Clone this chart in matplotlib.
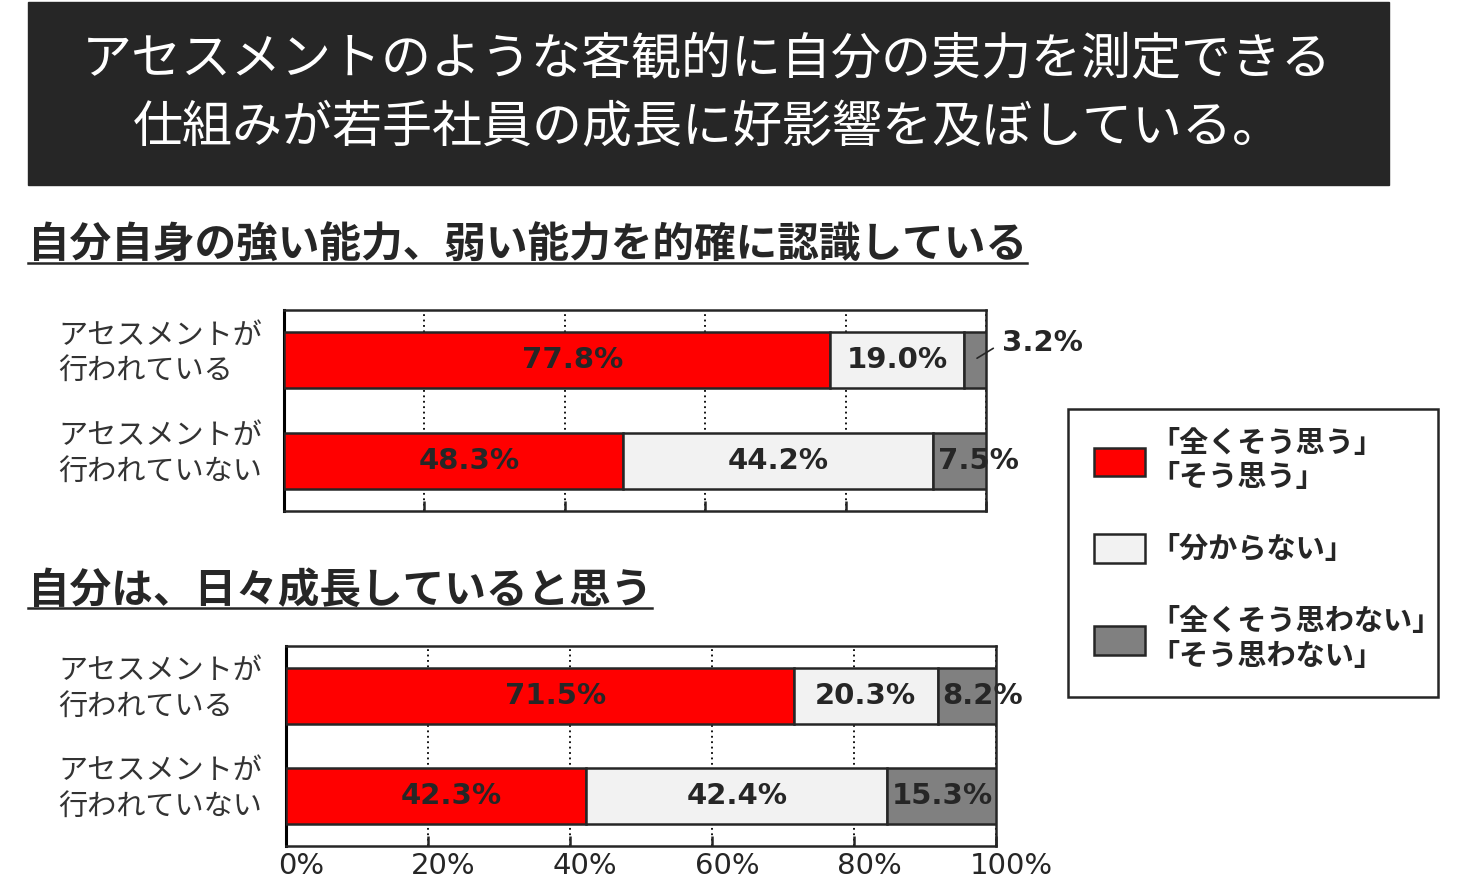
import matplotlib
matplotlib.use("Agg")
import matplotlib.pyplot as plt
import matplotlib.patches as mpatches
import matplotlib.transforms as mtransforms
from matplotlib.lines import Line2D
import numpy as np

plt.rcParams['font.family'] = ['Noto Sans CJK JP', 'DejaVu Sans']

# データ
groups = ["アセスメントが\n行われている", "アセスメントが\n行われていない"]
legend_labels = ["「全くそう思う」\n「そう思う」", "「分からない」", "「全くそう思わない」\n「そう思わない」"]
colors = ["#FF0000", "#F2F2F2", "#808080"]

q1_title = "自分自身の強い能力、弱い能力を的確に認識している"
q1_agree = [77.8, 48.3]
q1_unknown = [19.0, 44.2]
q1_disagree = [3.2, 7.5]

q2_title = "自分は、日々成長していると思う"
q2_agree = [71.5, 42.3]
q2_unknown = [20.3, 42.4]
q2_disagree = [8.2, 15.3]

xticks = [0, 20, 40, 60, 80, 100]
xtick_labels = ["0%", "20%", "40%", "60%", "80%", "100%"]

head_lines = ["アセスメントのような客観的に自分の実力を測定できる",
              "仕組みが若手社員の成長に好影響を及ぼしている。"]

W, H = 1459, 885
DARK = "#262626"
fig = plt.figure(figsize=(W / 100, H / 100), dpi=100)

# 見出しの黒帯
fig.add_artist(mpatches.Rectangle((28 / W, 1 - 185 / H), 1361 / W, 183 / H,
                                  transform=fig.transFigure, color=DARK, zorder=0))
fig.text(707 / W, 1 - 60 / H, head_lines[0], color="white", fontsize=36,
         ha="center", va="center")
fig.text(708 / W, 1 - 128 / H, head_lines[1], color="white", fontsize=36,
         ha="center", va="center")


def subtitle(text, y):
    t = fig.text(28 / W, 1 - (y + 3) / H, text, fontsize=30, fontweight="bold",
                 color=DARK, ha="left", va="center")
    fig.canvas.draw()
    bb = t.get_window_extent()
    uy = 1 - (y + 20) / H
    fig.add_artist(Line2D([28 / W, bb.x1 / W], [uy, uy], transform=fig.transFigure,
                          color=DARK, lw=1.8))


def chart(rect, agree, unknown, disagree, show_xlabels):
    ax = fig.add_axes(rect)
    y = np.arange(len(groups))
    series = [np.array(agree), np.array(unknown), np.array(disagree)]
    left = np.zeros(len(groups))
    for k, vals in enumerate(series):
        ax.barh(y, vals, left=left, height=0.56, color=colors[k],
                edgecolor=DARK, linewidth=1.8, zorder=3)
        for i, v in enumerate(vals):
            lbl = f"{v:.1f}%"
            kw = dict(fontsize=21, fontweight="bold", color=DARK,
                      family="DejaVu Sans", zorder=5)
            if k == 0:
                ax.annotate(lbl, (left[i] + v / 2, y[i]), xytext=(11, 0),
                            textcoords="offset points", ha="center", va="center", **kw)
            elif k == 1:
                ax.text(left[i] + v / 2, y[i], lbl, ha="center", va="center", **kw)
            elif v < 5:
                ax.annotate(lbl, (left[i] + v * 0.6, y[i] - 0.02), xytext=(18, 11),
                            textcoords="offset points", ha="left", va="center",
                            arrowprops=dict(arrowstyle="-", color=DARK, lw=1.2,
                                            shrinkA=5, shrinkB=0, relpos=(0, 0.5)),
                            **kw)
            else:
                ax.annotate(lbl, (left[i], y[i]), xytext=(3.5, 0),
                            textcoords="offset points", ha="left", va="center", **kw)
        left = left + vals
    ax.set_xlim(0, 100)
    ax.set_ylim(1.5, -0.5)
    ax.set_xticks(xticks)
    ax.grid(axis="x", color="black", linestyle=(0, (1, 2)), linewidth=1.3)
    ax.set_axisbelow(True)
    ax.tick_params(axis="x", direction="in", length=7, width=1.8, color=DARK,
                   labelsize=21, labelcolor=DARK, pad=4)
    if show_xlabels:
        ax.set_xticklabels(xtick_labels, family="DejaVu Sans")
        shift = mtransforms.ScaledTranslation(11 / 72, 0, fig.dpi_scale_trans)
        for lab in ax.get_xticklabels():
            lab.set_transform(lab.get_transform() + shift)
    else:
        ax.set_xticklabels([])
    ax.set_yticks([])
    # 行ラベル（左揃え）
    for i, g in enumerate(groups):
        ax.annotate(g, (0, y[i]), xycoords=("axes fraction", "data"),
                    xytext=(-(rect[0] * W - 58) * 0.72, 5), textcoords="offset points",
                    ha="left", va="center", fontsize=21, color="#333333",
                    linespacing=1.25, annotation_clip=False)
    for s in ax.spines.values():
        s.set_color(DARK)
        s.set_linewidth(1.8)
    ax.spines["left"].set_color("black")
    ax.spines["left"].set_linewidth(2.2)
    return ax


subtitle(q1_title, 243)
subtitle(q2_title, 588)

chart([284 / W, 1 - 511 / H, 702 / W, 201 / H], q1_agree, q1_unknown, q1_disagree, False)
chart([286 / W, 1 - 846 / H, 710 / W, 200 / H], q2_agree, q2_unknown, q2_disagree, True)

# 凡例
fig.add_artist(mpatches.Rectangle((1068 / W, 1 - 697 / H), 370 / W, 288 / H,
                                  transform=fig.transFigure, facecolor="white",
                                  edgecolor=DARK, linewidth=1.8, zorder=1))
handles = [mpatches.Patch(facecolor=c, edgecolor=DARK, linewidth=1.8) for c in colors]
leg = fig.legend(handles, legend_labels, loc="upper left",
                 bbox_to_anchor=(1075 / W, 1 - 409 / H), borderaxespad=0,
                 prop=dict(family="Noto Sans CJK JP", weight="bold", size=21),
                 handlelength=1.75, handleheight=1.13, handletextpad=0.18,
                 labelspacing=1.43, borderpad=0.64, frameon=False)
leg.set_zorder(2)
for t in leg.get_texts():
    t.set_color(DARK)

fig.savefig("out.png", dpi=100)
